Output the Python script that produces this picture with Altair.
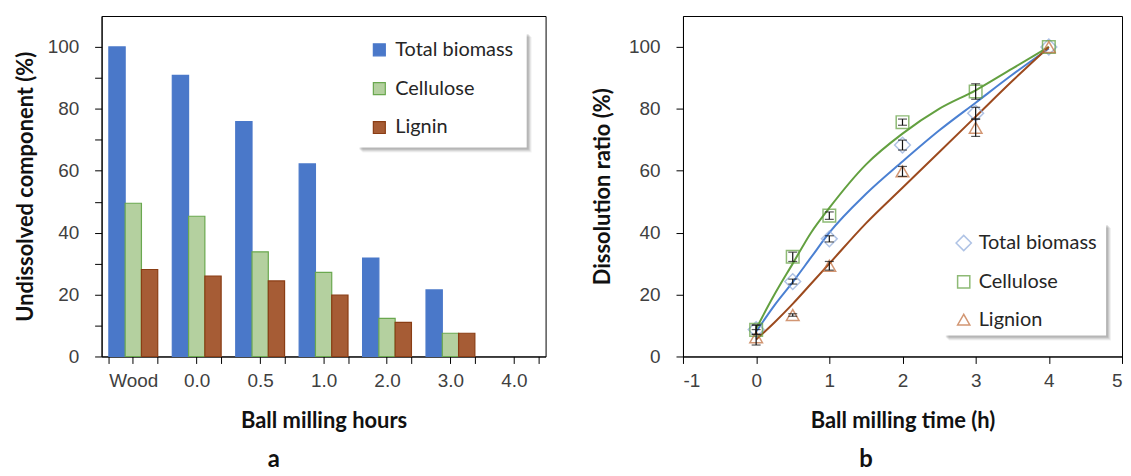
import altair as alt
import pandas as pd

# ---------------- Panel a data ----------------
categories = ["Wood", "0.0", "0.5", "1.0", "2.0", "3.0", "4.0"]
series_a = ["Total biomass", "Cellulose", "Lignin"]
undissolved_total = [100, 90.8, 75.9, 62.2, 31.8, 21.5, None]
undissolved_cellulose = [49.5, 45.3, 33.8, 27.2, 12.3, 7.5, None]
undissolved_lignin = [28.1, 26.0, 24.4, 19.8, 11.0, 7.5, None]

# ---------------- Panel b data ----------------
series_b = ["Total biomass", "Cellulose", "Lignion"]
time_h = [0, 0.5, 1, 2, 3, 4]
ratio_total = [8.7, 24.2, 38.0, 68.3, 78.6, 100]
ratio_cellulose = [8.6, 32.2, 45.5, 75.7, 85.6, 100]
ratio_lignin = [6.2, 13.4, 29.3, 59.8, 73.9, 100]
err_total = [1.5, 0.8, 1.0, 1.6, 1.9, 0]
err_cellulose = [1.5, 1.5, 1.2, 1.0, 2.5, 0]
err_lignin = [2.5, 0.4, 1.4, 1.6, 2.8, 0]

fit_time = [0, 0.25, 0.5, 0.75, 1, 1.5, 2, 2.5, 3, 3.5, 4]
fit_total = [8, 16.5, 24, 32, 40, 52.5, 63, 73, 82, 91, 99.5]
fit_cellulose = [9, 20, 30, 40, 48, 62, 72, 80, 86, 93, 100]
fit_lignin = [5.5, 11, 17, 23.5, 30, 43, 54.5, 66, 77.5, 89, 100]

# ---------------- styles ----------------
TICK_FONT = "Liberation Sans"
TITLE_FONT = "Lato"
fill_a = ["#4a78c9", "#b4d09f", "#a65c35"]
stroke_a = ["#4a78c9", "#6aa84f", "#8a3d14"]
marker_b = ["#8eaadb", "#5f9e3c", "#c06b38"]
line_b = ["#4b80d2", "#63a040", "#9c4a1e"]
shapes_b = ["M-1.25,0L0,-1.25L1.25,0L0,1.25Z", "square", "triangle-up"]

W_A, W_B, H = 446, 441, 342

one = pd.DataFrame({"k": [0]})

bars_df = pd.DataFrame(
    [
        {"cat": c, "series": s, "value": v}
        for s, vals in zip(series_a, [undissolved_total, undissolved_cellulose, undissolved_lignin])
        for c, v in zip(categories, vals)
        if v is not None
    ]
)

y_values = list(range(0, 101, 10))
y_label_expr = "datum.value % 20 === 0 ? '' + datum.value : ''"

def y_axis(title, title_pad):
    return alt.Axis(
        title=title,
        values=y_values,
        labelExpr=y_label_expr,
        tickSize=7,
        labelPadding=16,
        titlePadding=title_pad,
        grid=False,
    )

x_scale_a = alt.Scale(domain=categories, paddingInner=0.23, paddingOuter=0.115)

legend_a = alt.Legend(
    title=None,
    orient="none",
    legendX=269,
    legendY=24,
    symbolType="square",
    symbolSize=144,
    symbolStrokeWidth=1.2,
    labelFont=TITLE_FONT,
    labelFontSize=20,
    labelColor="#262626",
    labelOffset=6,
    rowPadding=19,
    padding=0,
)

bars = alt.Chart(bars_df).mark_bar(strokeWidth=1.2).encode(
    x=alt.X(
        "cat:N",
        scale=x_scale_a,
        sort=categories,
        axis=alt.Axis(
            title="Ball milling hours",
            labelAngle=0,
            tickBand="extent",
            tickSize=7,
            labelPadding=8,
            titlePadding=20,
        ),
    ),
    xOffset=alt.XOffset("series:N", scale=alt.Scale(domain=series_a, paddingInner=0, paddingOuter=0), sort=series_a),
    y=alt.Y("value:Q", scale=alt.Scale(domain=[0, 110], nice=False), axis=y_axis("Undissolved component (%)", 10)),
    fill=alt.Fill("series:N", scale=alt.Scale(domain=series_a, range=fill_a), legend=legend_a),
    stroke=alt.Stroke("series:N", scale=alt.Scale(domain=series_a, range=stroke_a), legend=legend_a),
)

center_ticks = alt.Chart(bars_df).mark_point(opacity=0).encode(
    x=alt.X(
        "cat:N",
        scale=x_scale_a,
        sort=categories,
        axis=alt.Axis(orient="bottom", labels=False, domain=False, title=None, tickSize=7),
    ),
)

def legend_box(x0, y0, x1, y1):
    layers = []
    for off, op in [(5, 0.05), (4, 0.07), (3, 0.09), (2, 0.1)]:
        layers.append(
            alt.Chart(one).mark_rect(fill="#000000", opacity=op).encode(
                x=alt.value(x0 + off), x2=alt.value(x1 + off), y=alt.value(y0 + off), y2=alt.value(y1 + off)
            )
        )
    layers.append(
        alt.Chart(one).mark_rect(fill="#ffffff").encode(
            x=alt.value(x0), x2=alt.value(x1), y=alt.value(y0), y2=alt.value(y1)
        )
    )
    return layers

def panel_label(txt, x, y):
    return alt.Chart(pd.DataFrame({"t": [txt]})).mark_text(
        font=TITLE_FONT, fontWeight="bold", fontSize=24, color="#111111"
    ).encode(text="t:N", x=alt.value(x), y=alt.value(y))

chart_a = alt.layer(
    *legend_box(257, 16, 427, 132),
    bars,
    center_ticks,
    panel_label("a", 173, 446),
).resolve_axis(x="independent").properties(width=W_A, height=H)

# ---------------- Panel b ----------------
pts_rows = []
for s, vals, errs in zip(series_b, [ratio_total, ratio_cellulose, ratio_lignin], [err_total, err_cellulose, err_lignin]):
    for t, v, e in zip(time_h, vals, errs):
        pts_rows.append({"series": s, "t": t, "v": v, "lo": v - e, "hi": v + e, "e": e})
pts_df = pd.DataFrame(pts_rows)
err_df = pts_df[pts_df["e"] > 0]

x_scale_b = alt.Scale(domain=[-1, 5], nice=False)
y_scale_b = alt.Scale(domain=[0, 110], nice=False)

x_axis_b = alt.Axis(
    title="Ball milling time (h)",
    values=[v / 2 for v in range(-2, 11)],
    labelExpr="datum.value % 1 === 0 ? '' + datum.value : ''",
    tickSize=7,
    labelPadding=8,
    titlePadding=20,
    grid=False,
)

line_layers = []
for s, fit, col in zip(series_b, [fit_total, fit_cellulose, fit_lignin], line_b):
    df = pd.DataFrame({"t": fit_time, "v": fit})
    line_layers.append(
        alt.Chart(df).mark_line(color=col, strokeWidth=2, interpolate="monotone").encode(
            x=alt.X("t:Q", scale=x_scale_b, axis=x_axis_b),
            y=alt.Y("v:Q", scale=y_scale_b, axis=y_axis("Dissolution ratio (%)", 14)),
        )
    )

legend_b = alt.Legend(
    title=None,
    orient="none",
    legendX=272,
    legendY=218,
    symbolSize=150,
    symbolStrokeWidth=1.5,
    labelFont=TITLE_FONT,
    labelFontSize=20,
    labelColor="#262626",
    labelOffset=5,
    rowPadding=18,
    padding=0,
)

points = alt.Chart(pts_df).mark_point(filled=False, size=160, strokeWidth=1.5).encode(
    x=alt.X("t:Q", scale=x_scale_b),
    y=alt.Y("v:Q", scale=y_scale_b),
    shape=alt.Shape("series:N", scale=alt.Scale(domain=series_b, range=shapes_b), legend=legend_b),
    color=alt.Color("series:N", scale=alt.Scale(domain=series_b, range=marker_b), legend=legend_b),
)

err_rule = alt.Chart(err_df).mark_rule(color="#111111", strokeWidth=1.2).encode(
    x=alt.X("t:Q", scale=x_scale_b),
    y=alt.Y("lo:Q", scale=y_scale_b),
    y2="hi:Q",
)
err_lo = alt.Chart(err_df).mark_tick(color="#111111", orient="horizontal", size=9, thickness=1.2).encode(
    x=alt.X("t:Q", scale=x_scale_b),
    y=alt.Y("lo:Q", scale=y_scale_b),
)
err_hi = alt.Chart(err_df).mark_tick(color="#111111", orient="horizontal", size=9, thickness=1.2).encode(
    x=alt.X("t:Q", scale=x_scale_b),
    y=alt.Y("hi:Q", scale=y_scale_b),
)

chart_b = alt.layer(
    *legend_box(262, 208, 425, 321),
    *line_layers,
    points,
    err_rule,
    err_lo,
    err_hi,
    panel_label("b", 184, 446),
).properties(width=W_B, height=H)

chart = (
    alt.hconcat(chart_a, chart_b, spacing=44)
    .resolve_scale(fill="independent", stroke="independent", color="independent", shape="independent")
    .resolve_legend(fill="independent", stroke="independent", color="independent", shape="independent")
    .properties(padding={"left": 5, "top": 6, "right": 0, "bottom": 0}, background="white")
    .configure_view(stroke="#000000", strokeWidth=1)
    .configure_axis(
        domainColor="#000000",
        tickColor="#000000",
        labelFont=TICK_FONT,
        labelFontSize=19,
        labelColor="#404040",
        titleFont=TITLE_FONT,
        titleFontWeight="bold",
        titleFontSize=22,
        titleColor="#111111",
    )
)

chart.save("out.html", embed_options={"renderer": "svg", "actions": False})
